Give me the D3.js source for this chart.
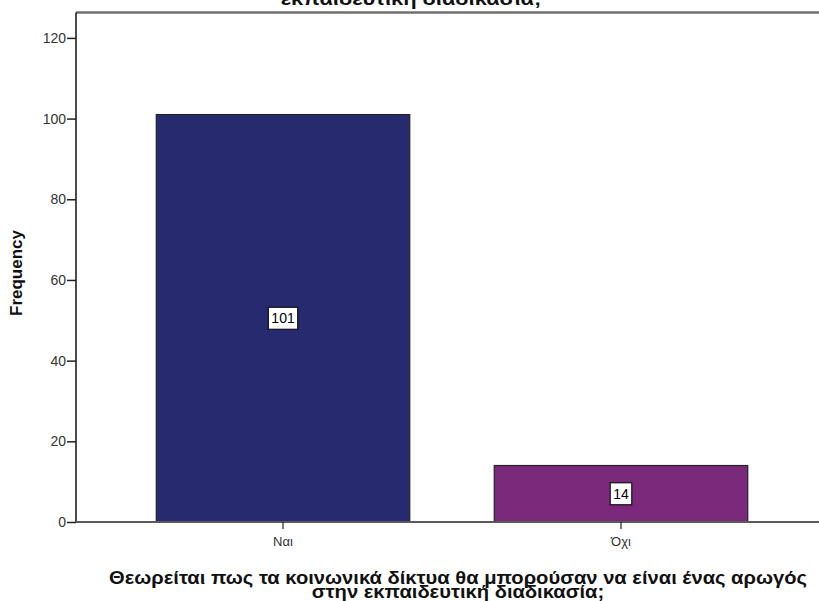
<!DOCTYPE html>
<html><head><meta charset="utf-8">
<script src="https://cdn.jsdelivr.net/npm/d3@7"></script>
<style>body{margin:0;background:#fff}svg{display:block}text{font-family:"Liberation Sans",Arial,sans-serif}</style>
</head><body><svg id="c" width="819" height="601"></svg>
<script>
const categories = ["Ναι", "Όχι"];
const frequencies = [101, 14];
const barColors = ["#282a70", "#7b297b"];
const yTicks = [0, 20, 40, 60, 80, 100, 120];
const titleText = "εκπαιδευτική διαδικασία;";
const xTitleLines = ["Θεωρείται πως τα κοινωνικά δίκτυα θα μπορούσαν να είναι ένας αρωγός", "στην εκπαιδευτική διαδικασία;"];
const yTitle = "Frequency";

const svg = d3.select("#c");
const pLeft = 76, pRight = 828, pTop = 12.5, pBottom = 522;
const x = d3.scaleBand().domain(categories).range([pLeft, pRight]).paddingInner(0.25).paddingOuter(0.2375);
const y = d3.scaleLinear().domain([0, 126.3]).range([pBottom, pTop]);

// top title (cut off)
svg.append("g").attr("transform", "translate(411,5) scale(1.15,1)")
  .append("text").attr("text-anchor", "middle")
  .attr("font-size", 19).attr("font-weight", "bold").attr("fill", "#111").text(titleText);

// frame top line
svg.append("line").attr("x1", pLeft).attr("x2", 819).attr("y1", pTop).attr("y2", pTop)
  .attr("stroke", "#6f6f6f").attr("stroke-width", 2.5);

// bars
const data = categories.map((c, i) => ({c, v: frequencies[i], col: barColors[i]}));
svg.selectAll("rect.bar").data(data).join("rect").attr("class", "bar")
  .attr("x", d => x(d.c)).attr("width", x.bandwidth())
  .attr("y", d => y(d.v)).attr("height", d => y(0) - y(d.v))
  .attr("fill", d => d.col).attr("stroke", "#222").attr("stroke-width", 1.2);

// y axis
const ya = svg.append("g").attr("transform", `translate(${pLeft},0)`)
  .call(d3.axisLeft(y).tickValues(yTicks).tickSize(9).tickPadding(1).tickFormat(d3.format("d")));
ya.select(".domain").attr("stroke", "#111").attr("stroke-width", 1.5).attr("d", `M0,${pBottom}V${pTop}`);
ya.selectAll(".tick line").attr("stroke", "#222").attr("stroke-width", 1.5);
ya.selectAll(".tick text").attr("font-size", 14).attr("fill", "#333").attr("font-family", "Liberation Sans, Arial, sans-serif");

// x axis
const xa = svg.append("g").attr("transform", `translate(0,${pBottom})`)
  .call(d3.axisBottom(x).tickSize(7).tickPadding(8));
xa.select(".domain").attr("stroke", "#5a5a5a").attr("stroke-width", 2).attr("d", `M${pLeft},0H819`);
xa.selectAll(".tick line").attr("stroke", "#222").attr("stroke-width", 1.2);
xa.selectAll(".tick text").attr("font-size", 13).attr("fill", "#333").attr("font-family", "Liberation Sans, Arial, sans-serif");

// value labels
const lab = svg.selectAll("g.lab").data(data).join("g").attr("class", "lab")
  .attr("transform", d => `translate(${x(d.c) + x.bandwidth() / 2},${y(d.v / 2)})`);
lab.each(function(d) {
  const g = d3.select(this);
  const t = g.append("text").attr("text-anchor", "middle").attr("dy", "0.36em")
    .attr("font-size", 14).attr("fill", "#000").text(d.v);
  const w = t.node().getComputedTextLength() + 6;
  g.insert("rect", "text").attr("x", -w / 2).attr("y", -11).attr("width", w).attr("height", 22)
    .attr("fill", "#fff").attr("stroke", "#111").attr("stroke-width", 1.2);
});

// y title
svg.append("text").attr("transform", `translate(22,273) rotate(-90)`).attr("text-anchor", "middle")
  .attr("font-size", 17).attr("font-weight", "bold").attr("fill", "#111").text(yTitle);

// x title
svg.append("g").attr("transform", "translate(458,0) scale(1.12,1)")
  .append("text").attr("text-anchor", "middle").attr("font-size", 18).attr("font-weight", "bold").attr("fill", "#111")
  .selectAll("tspan").data(xTitleLines).join("tspan")
  .attr("x", 0).attr("y", (d, i) => 584 + i * 14.5).text(d => d);
</script></body></html>
